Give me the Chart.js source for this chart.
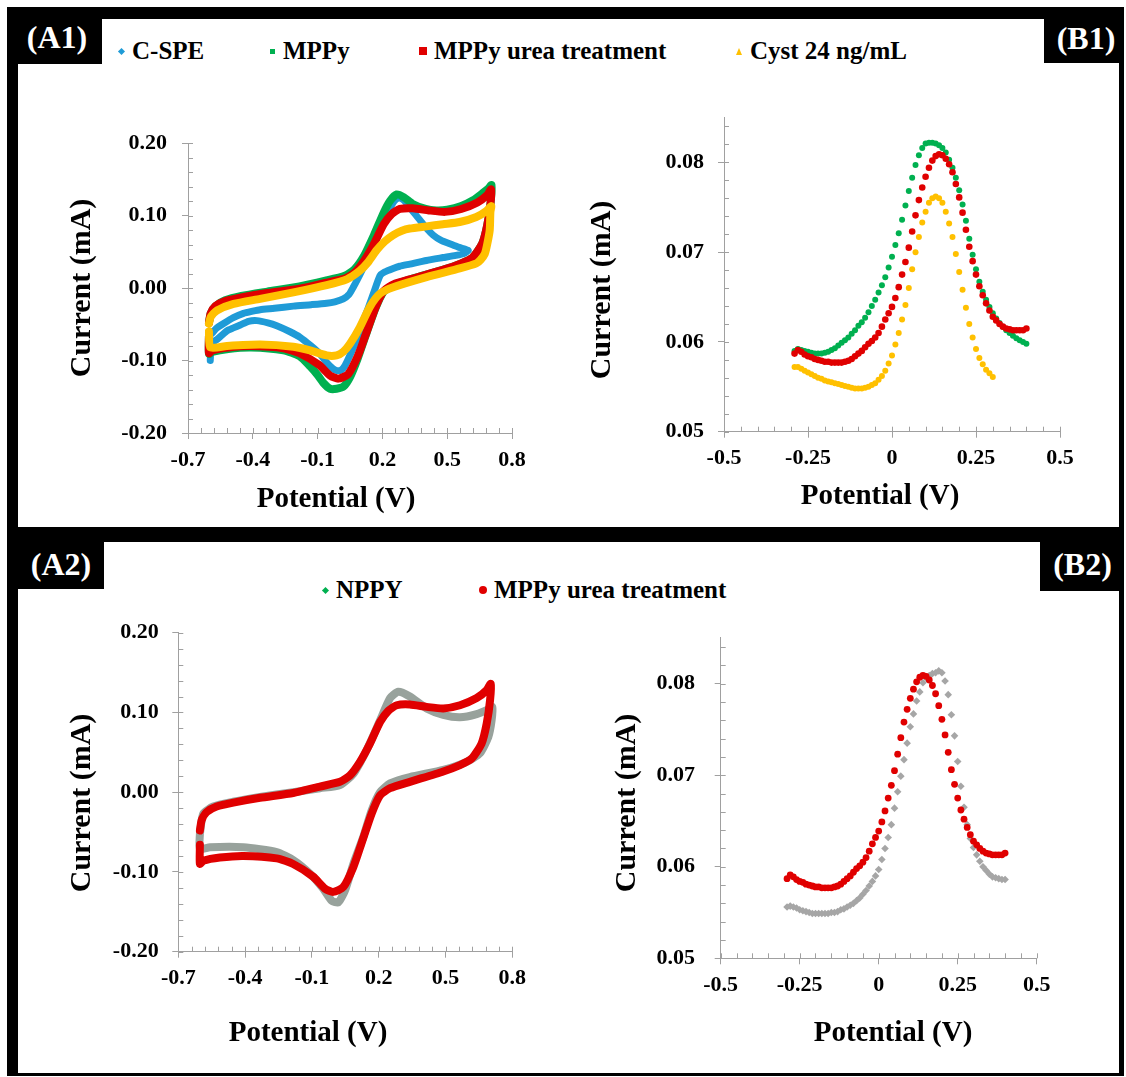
<!DOCTYPE html>
<html lang="en">
<head>
<meta charset="UTF-8">
<title>CV and DPV of MPPy electrodes</title>
<script src="https://cdn.jsdelivr.net/npm/chart.js"></script>
<style>
    body { margin: 0; background: #fff; font-family: 'Liberation Serif', 'Times New Roman', serif; }
    #figure { position: relative; width: 1126px; height: 1077px; }
    .frame { position: absolute; left: 7px; top: 7px; width: 1117px; height: 1069px; background: #000; }
    .panel { position: absolute; left: 18px; width: 1101px; background: #fff; }
    .tag { position: absolute; background: #000; color: #fff; font-weight: bold; font-size: 32px; line-height: 32px; text-align: center; box-sizing: border-box; }
    .lg-text { position: absolute; font-weight: bold; font-size: 25px; line-height: 30px; color: #000; white-space: nowrap; }
    .lg-mark { position: absolute; }
    canvas { position: absolute; }
</style>
</head>
<body>
<div id="figure">
    <div class="frame"></div>
    <div class="panel" style="top:19px;height:508px"></div>
    <div class="panel" style="top:542px;height:531px"></div>

    <!-- panel tags -->
    <div class="tag" style="left:7px;top:7px;width:95px;height:57px;padding-top:14px;padding-left:5px">(A1)</div>
    <div class="tag" style="left:1044px;top:7px;width:80px;height:56px;padding-top:15px;padding-left:4px">(B1)</div>
    <div class="tag" style="left:7px;top:527px;width:97px;height:62px;padding-top:21px;padding-left:11px">(A2)</div>
    <div class="tag" style="left:1040px;top:527px;width:84px;height:64px;padding-top:21px;padding-left:1px">(B2)</div>

    <div id="legendTop"></div>
    <div id="legendBottom"></div>

    <canvas id="chartA1" width="545" height="457" style="left:18px;top:70px"></canvas>
    <canvas id="chartB1" width="556" height="457" style="left:563px;top:70px"></canvas>
    <canvas id="chartA2" width="545" height="468" style="left:18px;top:605px"></canvas>
    <canvas id="chartB2" width="556" height="468" style="left:563px;top:605px"></canvas>
</div>

<script>
    // series names
    const seriesNames = ['C-SPE', 'MPPy', 'MPPy urea treatment', 'Cyst 24 ng/mL'];
    const nppyName = 'NPPY';

    // CV loops (A1, A2): potential (V) and current (mA), read around each loop
    const cspePotential = [-0.597, -0.590, -0.570, -0.535, -0.490, -0.443, -0.400, -0.366, -0.300, -0.212, -0.130, -0.058, -0.020, 0.019, 0.045, 0.065, 0.095, 0.127, 0.160, 0.189, 0.215, 0.235, 0.255, 0.273, 0.290, 0.312, 0.340, 0.373, 0.405, 0.435, 0.470, 0.512, 0.555, 0.597,
        0.580, 0.540, 0.481, 0.404, 0.327, 0.280, 0.250, 0.210, 0.189, 0.158, 0.135, 0.112, 0.090, 0.066, 0.045, 0.027, 0.010, -0.010, -0.030, -0.060, -0.089, -0.130, -0.181, -0.230, -0.289, -0.330, -0.381, -0.420, -0.458, -0.490, -0.520, -0.566, -0.589, -0.595, -0.597];
    const cspeCurrent = [-0.060, -0.063, -0.056, -0.049, -0.041, -0.035, -0.032, -0.030, -0.028, -0.025, -0.023, -0.021, -0.019, -0.015, -0.009, 0.001, 0.018, 0.038, 0.060, 0.080, 0.097, 0.110, 0.120, 0.124, 0.123, 0.117, 0.106, 0.094, 0.082, 0.073, 0.066, 0.061, 0.056, 0.052,
        0.048, 0.045, 0.042, 0.038, 0.033, 0.030, 0.027, 0.022, 0.017, -0.008, -0.027, -0.045, -0.064, -0.082, -0.096, -0.107, -0.113, -0.114, -0.111, -0.102, -0.091, -0.080, -0.068, -0.060, -0.052, -0.048, -0.045, -0.046, -0.051, -0.055, -0.059, -0.071, -0.076, -0.088, -0.100];

    const mppyPotential = [-0.603, -0.595, -0.573, -0.528, -0.453, -0.333, -0.184, -0.064, 0.026, 0.071, 0.116, 0.161, 0.206, 0.235, 0.266, 0.300, 0.340, 0.400, 0.450, 0.500, 0.565, 0.620, 0.665, 0.690, 0.705,
        0.700, 0.685, 0.662, 0.617, 0.565, 0.490, 0.340, 0.251, 0.206, 0.168, 0.123, 0.086, 0.050, 0.020, -0.012, -0.042, -0.073, -0.100, -0.135, -0.184, -0.258, -0.408, -0.513, -0.588, -0.603, -0.603];
    const mppyCurrent = [-0.048, -0.035, -0.025, -0.017, -0.011, -0.005, 0.002, 0.010, 0.017, 0.026, 0.045, 0.073, 0.104, 0.120, 0.129, 0.125, 0.116, 0.109, 0.107, 0.108, 0.113, 0.121, 0.131, 0.137, 0.142,
        0.115, 0.086, 0.061, 0.042, 0.034, 0.026, 0.013, 0.004, -0.005, -0.028, -0.065, -0.097, -0.123, -0.136, -0.139, -0.139, -0.131, -0.120, -0.108, -0.094, -0.086, -0.082, -0.084, -0.088, -0.091, -0.066];

    const ureaPotential = [-0.603, -0.595, -0.573, -0.528, -0.453, -0.333, -0.184, -0.064, 0.026, 0.071, 0.116, 0.161, 0.206, 0.243, 0.281, 0.340, 0.415, 0.490, 0.565, 0.640, 0.685, 0.703,
        0.700, 0.685, 0.662, 0.617, 0.565, 0.490, 0.340, 0.251, 0.206, 0.168, 0.123, 0.086, 0.041, -0.004, -0.041, -0.094, -0.184, -0.258, -0.408, -0.513, -0.588, -0.603, -0.603];
    const ureaCurrent = [-0.048, -0.035, -0.025, -0.018, -0.013, -0.007, -0.001, 0.007, 0.013, 0.021, 0.038, 0.061, 0.088, 0.102, 0.109, 0.110, 0.107, 0.105, 0.109, 0.118, 0.128, 0.136,
        0.115, 0.086, 0.061, 0.042, 0.034, 0.026, 0.013, 0.005, -0.004, -0.027, -0.064, -0.094, -0.119, -0.125, -0.121, -0.106, -0.090, -0.083, -0.080, -0.082, -0.086, -0.090, -0.066];

    const cystPotential = [-0.603, -0.595, -0.566, -0.489, -0.366, -0.212, -0.058, 0.035, 0.096, 0.135, 0.173, 0.210, 0.250, 0.290, 0.327, 0.404, 0.480, 0.558, 0.635, 0.680, 0.704,
        0.700, 0.697, 0.685, 0.674, 0.655, 0.635, 0.558, 0.404, 0.250, 0.188, 0.142, 0.096, 0.050, 0.019, -0.012, -0.058, -0.135, -0.212, -0.366, -0.520, -0.597, -0.603];
    const cystCurrent = [-0.049, -0.040, -0.031, -0.022, -0.015, -0.006, 0.004, 0.012, 0.024, 0.036, 0.052, 0.064, 0.073, 0.079, 0.082, 0.085, 0.088, 0.091, 0.098, 0.106, 0.113,
        0.105, 0.080, 0.060, 0.047, 0.039, 0.034, 0.027, 0.015, 0.001, -0.008, -0.026, -0.054, -0.077, -0.088, -0.093, -0.093, -0.086, -0.081, -0.078, -0.080, -0.082, -0.060];

    const nppyPotential = [-0.603, -0.588, -0.543, -0.453, -0.333, -0.184, -0.064, 0.026, 0.086, 0.146, 0.206, 0.251, 0.288, 0.340, 0.415, 0.490, 0.565, 0.640, 0.692, 0.710,
        0.707, 0.692, 0.655, 0.595, 0.490, 0.340, 0.251, 0.206, 0.168, 0.131, 0.086, 0.049, 0.019, -0.011, -0.049, -0.109, -0.184, -0.258, -0.408, -0.558, -0.603, -0.603];
    const nppyCurrent = [-0.052, -0.027, -0.018, -0.012, -0.006, 0.000, 0.005, 0.009, 0.023, 0.053, 0.090, 0.118, 0.126, 0.120, 0.105, 0.097, 0.094, 0.098, 0.104, 0.107,
        0.090, 0.069, 0.049, 0.038, 0.028, 0.019, 0.011, 0.000, -0.023, -0.056, -0.090, -0.123, -0.138, -0.136, -0.121, -0.102, -0.085, -0.075, -0.069, -0.069, -0.071, -0.052];

    // DPV (B1, B2): potential steps (V) and peak currents (mA)
    const dpvPotential = [-0.29, -0.28, -0.27, -0.26, -0.25, -0.24, -0.23, -0.22, -0.21, -0.20,
        -0.19, -0.18, -0.17, -0.16, -0.15, -0.14, -0.13, -0.12, -0.11, -0.10,
        -0.09, -0.08, -0.07, -0.06, -0.05, -0.04, -0.03, -0.02, -0.01, 0.00,
        0.01, 0.02, 0.03, 0.04, 0.05, 0.06, 0.07, 0.08, 0.09, 0.10,
        0.11, 0.12, 0.13, 0.14, 0.15, 0.16, 0.17, 0.18, 0.19, 0.20,
        0.21, 0.22, 0.23, 0.24, 0.25, 0.26, 0.27, 0.28, 0.29, 0.30,
        0.31, 0.32, 0.33, 0.34, 0.35, 0.36, 0.37, 0.38, 0.39, 0.40];
    const mppyDpv = [0.0590, 0.0592, 0.0591, 0.0590, 0.0589, 0.0588, 0.0587, 0.0587, 0.0587, 0.0588,
        0.0589, 0.0591, 0.0593, 0.0596, 0.0599, 0.0602, 0.0605, 0.0609, 0.0613, 0.0618,
        0.0622, 0.0627, 0.0633, 0.0640, 0.0647, 0.0655, 0.0663, 0.0672, 0.0683, 0.0695,
        0.0708, 0.0721, 0.0736, 0.0752, 0.0768, 0.0783, 0.0797, 0.0808, 0.0816, 0.0821,
        0.0822, 0.0822, 0.0821, 0.0819, 0.0816, 0.0811, 0.0803, 0.0794, 0.0783, 0.0769,
        0.0753, 0.0735, 0.0715, 0.0697, 0.0681, 0.0667, 0.0656, 0.0647, 0.0639, 0.0632,
        0.0626, 0.0621, 0.0617, 0.0613, 0.0610, 0.0607, 0.0604, 0.0602, 0.0600, 0.0598];
    const ureaDpv = [0.0587, 0.0591, 0.0589, 0.0586, 0.0584, 0.0583, 0.0581, 0.0580, 0.0579, 0.0578,
        0.0578, 0.0577, 0.0577, 0.0577, 0.0577, 0.0578, 0.0579, 0.0581, 0.0584, 0.0587,
        0.0590, 0.0594, 0.0598, 0.0601, 0.0605, 0.0610, 0.0617, 0.0625, 0.0632, 0.0639,
        0.0649, 0.0661, 0.0675, 0.0689, 0.0705, 0.0723, 0.0741, 0.0758, 0.0772, 0.0784,
        0.0794, 0.0802, 0.0807, 0.0809, 0.0808, 0.0804, 0.0798, 0.0789, 0.0776, 0.0761,
        0.0744, 0.0725, 0.0706, 0.0690, 0.0675, 0.0662, 0.0652, 0.0643, 0.0635, 0.0628,
        0.0624, 0.0620, 0.0617, 0.0615, 0.0614, 0.0613, 0.0613, 0.0613, 0.0613, 0.0615];
    const cystDpv = [0.0572, 0.0572, 0.0570, 0.0568, 0.0566, 0.0564, 0.0562, 0.0560, 0.0559, 0.0557,
        0.0556, 0.0555, 0.0554, 0.0553, 0.0552, 0.0551, 0.0550, 0.0549, 0.0548, 0.0548,
        0.0548, 0.0549, 0.0550, 0.0552, 0.0554, 0.0558, 0.0562, 0.0568, 0.0576, 0.0585,
        0.0597, 0.0610, 0.0625, 0.0641, 0.0660, 0.0681, 0.0700, 0.0717, 0.0733, 0.0745,
        0.0755, 0.0760, 0.0762, 0.0760, 0.0755, 0.0745, 0.0732, 0.0717, 0.0698, 0.0678,
        0.0658, 0.0638, 0.0620, 0.0605, 0.0592, 0.0582, 0.0575, 0.0569, 0.0565, 0.0561];
    const nppyDpv = [0.0556, 0.0557, 0.0556, 0.0555, 0.0553, 0.0552, 0.0551, 0.0550, 0.0549, 0.0549,
        0.0549, 0.0549, 0.0549, 0.0549, 0.0550, 0.0550, 0.0551, 0.0553, 0.0554, 0.0556,
        0.0558, 0.0560, 0.0563, 0.0566, 0.0570, 0.0574, 0.0579, 0.0584, 0.0590, 0.0597,
        0.0608, 0.0620, 0.0632, 0.0646, 0.0664, 0.0682, 0.0699, 0.0717, 0.0735, 0.0753,
        0.0767, 0.0781, 0.0791, 0.0801, 0.0806, 0.0809, 0.0811, 0.0812, 0.0814, 0.0812,
        0.0803, 0.0788, 0.0766, 0.0743, 0.0715, 0.0688, 0.0665, 0.0646, 0.0631, 0.0621,
        0.0613, 0.0606, 0.0600, 0.0596, 0.0592, 0.0589, 0.0588, 0.0587, 0.0586, 0.0586];

    // axis ticks
    const cvXTicks = [-0.7, -0.4, -0.1, 0.2, 0.5, 0.8];
    const cvXLabels = ['-0.7', '-0.4', '-0.1', '0.2', '0.5', '0.8'];
    const cvYTicks = [-0.2, -0.1, 0, 0.1, 0.2];
    const cvYLabels = ['-0.20', '-0.10', '0.00', '0.10', '0.20'];
    const dpvXTicks = [-0.5, -0.25, 0, 0.25, 0.5];
    const dpvXLabels = ['-0.5', '-0.25', '0', '0.25', '0.5'];
    const dpvYTicks = [0.05, 0.06, 0.07, 0.08];
    const dpvYLabels = ['0.05', '0.06', '0.07', '0.08'];

    const xTitle = 'Potential (V)';
    const yTitle = 'Current (mA)';

    // colours
    const cBlue = '#1f9bd7';
    const cGreen = '#00b050';
    const cRed = '#e00000';
    const cYellow = '#ffc000';
    const cGreyLine = '#98a29c';
    const cGreyDot = '#a6a6a6';
    const axisGrey = '#a0a0a0';

    Chart.defaults.font.family = "'Liberation Serif', 'Times New Roman', serif";
    Chart.defaults.font.weight = 'bold';

    function pairs(xs, ys) {
        return ys.map((y, i) => ({ x: xs[i], y: y }));
    }

    // minor tick marks inside the plot and free-placed axis titles
    const axisExtras = {
        id: 'axisExtras',
        beforeDatasetsDraw(chart, args, o) {
            const { ctx, chartArea: a } = chart;
            const sx = chart.scales.x, sy = chart.scales.y;
            ctx.save();
            ctx.strokeStyle = axisGrey;
            ctx.lineWidth = 1;
            ctx.beginPath();
            for (let v = sx.min; v <= sx.max + 1e-9; v += o.minorX) {
                const px = Math.round(sx.getPixelForValue(v)) + 0.5;
                ctx.moveTo(px, a.bottom);
                ctx.lineTo(px, a.bottom - 5);
            }
            for (let v = sy.min; v <= sy.max + 1e-9; v += o.minorY) {
                const py = Math.round(sy.getPixelForValue(v)) + 0.5;
                ctx.moveTo(a.left, py);
                ctx.lineTo(a.left + 5, py);
            }
            ctx.stroke();
            ctx.restore();
        },
        afterDraw(chart, args, o) {
            const ctx = chart.ctx;
            ctx.save();
            ctx.fillStyle = '#000';
            ctx.textAlign = 'center';
            ctx.textBaseline = 'middle';
            ctx.font = "bold 29px 'Liberation Serif', serif";
            ctx.fillText(xTitle, o.xTitleAt[0], o.xTitleAt[1]);
            ctx.translate(o.yTitleAt[0], o.yTitleAt[1]);
            ctx.rotate(-Math.PI / 2);
            ctx.font = "bold 30px 'Liberation Serif', serif";
            ctx.fillText(yTitle, 0, 0);
            ctx.restore();
        }
    };

    function panel(id, datasets, ax) {
        const tickFont = { size: 22, weight: 'bold' };
        return new Chart(document.getElementById(id), {
            type: 'scatter',
            data: { datasets: datasets },
            options: {
                responsive: false,
                animation: false,
                layout: { padding: ax.pad },
                plugins: {
                    legend: { display: false },
                    tooltip: { enabled: false },
                    axisExtras: ax.extras
                },
                scales: {
                    x: {
                        min: ax.xMin, max: ax.xMax,
                        afterFit: s => { s.height = ax.xHeight; },
                        afterBuildTicks: s => { s.ticks = ax.xTicks.map(v => ({ value: v })); },
                        ticks: { font: tickFont, color: '#000', padding: ax.xPad, maxRotation: 0, autoSkip: false,
                            callback: (v, i) => ax.xLabels[i] },
                        grid: { drawOnChartArea: false, tickLength: 6, color: axisGrey },
                        border: { color: axisGrey }
                    },
                    y: {
                        min: ax.yMin, max: ax.yMax,
                        afterFit: s => { s.width = ax.yWidth; },
                        afterBuildTicks: s => { s.ticks = ax.yTicks.map(v => ({ value: v })); },
                        ticks: { font: tickFont, color: '#000', padding: ax.yPad, autoSkip: false,
                            callback: (v, i) => ax.yLabels[i] },
                        grid: { drawOnChartArea: false, tickLength: 6, color: axisGrey },
                        border: { color: axisGrey }
                    }
                }
            },
            plugins: [axisExtras]
        });
    }

    function loop(name, xs, ys, color, width, order) {
        return { label: name, data: pairs(xs, ys), showLine: true, borderColor: color, borderWidth: width,
            pointRadius: 0, tension: 0.2, borderJoinStyle: 'round', borderCapStyle: 'round', order: order };
    }

    function dots(name, xs, ys, color, radius, style) {
        return { label: name, data: pairs(xs, ys), pointRadius: radius, pointStyle: style || 'circle',
            backgroundColor: color, borderWidth: 0, pointBorderWidth: 0 };
    }

    // A1: cyclic voltammograms
    panel('chartA1', [
        loop(seriesNames[0], cspePotential, cspeCurrent, cBlue, 7, 4),
        loop(seriesNames[1], mppyPotential, mppyCurrent, cGreen, 8, 3),
        loop(seriesNames[2], ureaPotential, ureaCurrent, cRed, 8, 2),
        loop(seriesNames[3], cystPotential, cystCurrent, cYellow, 8, 1)
    ], {
        xMin: -0.7, xMax: 0.8, yMin: -0.2, yMax: 0.2,
        xTicks: cvXTicks, xLabels: cvXLabels, yTicks: cvYTicks, yLabels: cvYLabels,
        pad: { left: 0, top: 73, right: 51, bottom: 0 }, xHeight: 94, yWidth: 170, xPad: 8, yPad: 15,
        extras: { minorX: 0.06, minorY: 0.02, xTitleAt: [318, 430], yTitleAt: [64, 218] }
    });

    // B1: DPV
    panel('chartB1', [
        dots(seriesNames[3], dpvPotential, cystDpv, cYellow, 3),
        dots(seriesNames[2], dpvPotential, ureaDpv, cRed, 3.3),
        dots(seriesNames[1], dpvPotential, mppyDpv, cGreen, 3)
    ], {
        xMin: -0.5, xMax: 0.5, yMin: 0.05, yMax: 0.085,
        xTicks: dpvXTicks, xLabels: dpvXLabels, yTicks: dpvYTicks, yLabels: dpvYLabels,
        pad: { left: 0, top: 47.5, right: 59, bottom: 0 }, xHeight: 95.3, yWidth: 161, xPad: 7, yPad: 14,
        extras: { minorX: 0.05, minorY: 0.002, xTitleAt: [317, 427], yTitleAt: [39, 220] }
    });

    // A2: NPPY vs urea treated MPPy
    panel('chartA2', [
        loop(seriesNames[2], ureaPotential, ureaCurrent, cRed, 8, 1),
        loop(nppyName, nppyPotential, nppyCurrent, cGreyLine, 8, 2)
    ], {
        xMin: -0.7, xMax: 0.8, yMin: -0.2, yMax: 0.2,
        xTicks: cvXTicks, xLabels: cvXLabels, yTicks: cvYTicks, yLabels: cvYLabels,
        pad: { left: 0, top: 27.7, right: 50.7, bottom: 0 }, xHeight: 121.3, yWidth: 160.3, xPad: 7, yPad: 13.6,
        extras: { minorX: 0.06, minorY: 0.02, xTitleAt: [290, 429], yTitleAt: [64, 198] }
    });

    // B2: DPV
    panel('chartB2', [
        dots(seriesNames[2], dpvPotential, ureaDpv, cRed, 3.4),
        dots(nppyName, dpvPotential, nppyDpv, cGreyDot, 3.8, 'rectRot')
    ], {
        xMin: -0.5, xMax: 0.5, yMin: 0.05, yMax: 0.085,
        xTicks: dpvXTicks, xLabels: dpvXLabels, yTicks: dpvYTicks, yLabels: dpvYLabels,
        pad: { left: 0, top: 23.1, right: 82.3, bottom: 0 }, xHeight: 114.7, yWidth: 157.7, xPad: 7.5, yPad: 19.7,
        extras: { minorX: 0.05, minorY: 0.002, xTitleAt: [330, 429], yTitleAt: [64, 198] }
    });

    // legends (HTML, same names and colours as the datasets)
    function addLegend(boxId, items, cy) {
        const box = document.getElementById(boxId);
        items.forEach(it => {
            const m = document.createElement('div');
            m.className = 'lg-mark';
            const s = it.size;
            if (it.shape === 'triangle') {
                m.style.cssText = `left:${it.at - s / 2}px;top:${cy - s / 2}px;width:0;height:0;` +
                    `border-left:${s / 2}px solid transparent;border-right:${s / 2}px solid transparent;border-bottom:${s}px solid ${it.color}`;
            } else {
                m.style.cssText = `left:${it.at - s / 2}px;top:${cy - s / 2}px;width:${s}px;height:${s}px;background:${it.color}`;
                if (it.shape === 'diamond') m.style.transform = 'rotate(45deg)';
                if (it.shape === 'circle') m.style.borderRadius = '50%';
            }
            box.appendChild(m);
            const t = document.createElement('div');
            t.className = 'lg-text';
            t.style.left = (it.at + 11) + 'px';
            t.style.top = (cy - 15) + 'px';
            t.textContent = it.name;
            box.appendChild(t);
        });
    }

    addLegend('legendTop', [
        { name: seriesNames[0], color: cBlue, shape: 'diamond', size: 5, at: 121 },
        { name: seriesNames[1], color: cGreen, shape: 'square', size: 5, at: 272 },
        { name: seriesNames[2], color: cRed, shape: 'square', size: 8, at: 423 },
        { name: seriesNames[3], color: cYellow, shape: 'triangle', size: 7, at: 739 }
    ], 51);

    addLegend('legendBottom', [
        { name: nppyName, color: cGreen, shape: 'diamond', size: 5, at: 325 },
        { name: seriesNames[2], color: cRed, shape: 'circle', size: 8, at: 483 }
    ], 590);
</script>
</body>
</html>
